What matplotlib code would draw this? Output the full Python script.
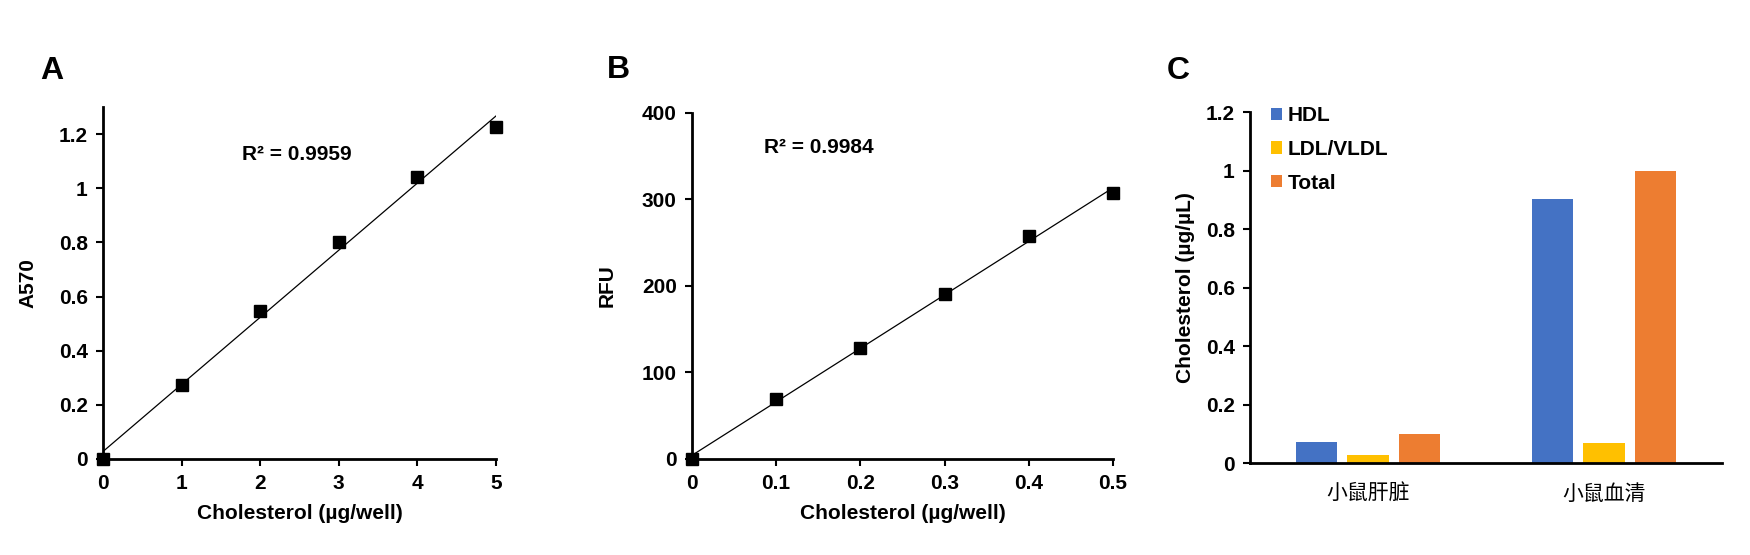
import numpy as np
import matplotlib.pyplot as plt
from matplotlib.ticker import FuncFormatter

plt.rcParams['font.family'] = ['Liberation Sans', 'DejaVu Sans']

# panel A : colorimetric standard curve
a_x = [0, 1, 2, 3, 4, 5]
a_y = [0.0, 0.275, 0.545, 0.80, 1.04, 1.225]
a_r2 = "R² = 0.9959"

# panel B : fluorometric standard curve
b_x = [0, 0.1, 0.2, 0.3, 0.4, 0.5]
b_y = [0, 69, 128, 191, 258, 307]
b_r2 = "R² = 0.9984"

# panel C : samples
samples = ["小鼠肝脏", "小鼠血清"]
series = ["HDL", "LDL/VLDL", "Total"]
hdl = [0.073, 0.903]
ldl = [0.028, 0.069]
total = [0.100, 1.000]
colors = ["#4472C4", "#FFC000", "#ED7D31"]

FS = 15
fig = plt.figure(figsize=(17.5, 5.55), dpi=100)
fmt = FuncFormatter(lambda v, p: "%g" % round(v, 3))


def style(ax):
    for s in ["top", "right"]:
        ax.spines[s].set_visible(False)
    for s in ["left", "bottom"]:
        ax.spines[s].set_linewidth(2)
    ax.tick_params(width=1.5, length=5, labelsize=FS, pad=6)
    for lab in ax.get_xticklabels() + ax.get_yticklabels():
        lab.set_fontweight("bold")


def curve(ax, x, y, r2, rx, ry):
    k, b = np.polyfit(x, y, 1)
    xs = np.array([x[0], x[-1]])
    ax.plot(xs, k * xs + b, color="k", lw=0.9, zorder=2)
    ax.plot(x, y, "s", color="k", ms=8, zorder=3, clip_on=False)
    ax.text(rx, ry, r2, fontsize=FS, fontweight="bold", ha="center", va="center")
    ax.xaxis.set_major_formatter(fmt)
    ax.yaxis.set_major_formatter(fmt)
    ax.set_xlabel("Cholesterol (µg/well)", fontsize=FS, fontweight="bold", labelpad=8)


axA = fig.add_axes([0.0589, 0.173, 0.2245, 0.634])
curve(axA, a_x, a_y, a_r2, 2.47, 1.126)
axA.set_xlim(0, 5)
axA.set_ylim(0, 1.3)
axA.set_xticks(a_x)
axA.set_yticks(np.arange(0, 1.21, 0.2))
axA.set_ylabel("A570", fontsize=FS, fontweight="bold")
style(axA)
axA.yaxis.set_label_coords(-0.168, 0.5)

axB = fig.add_axes([0.3954, 0.173, 0.2406, 0.6234])
curve(axB, b_x, b_y, b_r2, 0.151, 360)
axB.set_xlim(0, 0.5)
axB.set_ylim(0, 400)
axB.set_xticks(b_x)
axB.set_yticks(np.arange(0, 401, 100))
axB.set_ylabel("RFU", fontsize=FS, fontweight="bold")
style(axB)
axB.yaxis.set_label_coords(-0.179, 0.5)

axC = fig.add_axes([0.7143, 0.1652, 0.2697, 0.6324])
xc = np.arange(len(samples))
w = 0.174
for i, (name, vals) in enumerate(zip(series, [hdl, ldl, total])):
    axC.bar(xc + (i - 1) * 0.22, vals, w, color=colors[i], label=name, zorder=2)
axC.set_xlim(-0.5, 1.5)
axC.set_ylim(0, 1.2)
axC.set_yticks(np.arange(0, 1.21, 0.2))
axC.yaxis.set_major_formatter(fmt)
axC.set_xticks(xc)
axC.set_xticklabels(samples)
axC.set_ylabel("Cholesterol (µg/µL)", fontsize=FS, fontweight="bold")
style(axC)
axC.tick_params(axis="x", length=0, pad=14)
for lab in axC.get_xticklabels():
    lab.set_fontweight("normal")
    lab.set_family(["Noto Sans CJK SC", "DejaVu Sans"])
    lab.set_fontsize(15)
axC.yaxis.set_label_coords(-0.1165, 0.5)
leg = axC.legend(loc="upper left", bbox_to_anchor=(0.044, 1.017), frameon=False,
                 borderpad=0, borderaxespad=0,
                 prop={"weight": "bold", "size": FS}, handlelength=0.53,
                 handleheight=0.53, handletextpad=0.3, labelspacing=0.7)

fig.text(40 / 1750, 1 - 71 / 555, "A", fontsize=23, fontweight="bold", va="center")
fig.text(607 / 1750, 1 - 70 / 555, "B", fontsize=23, fontweight="bold", va="center")
fig.text(1167 / 1750, 1 - 71 / 555, "C", fontsize=23, fontweight="bold", va="center")

fig.savefig("out.png", dpi=100)
